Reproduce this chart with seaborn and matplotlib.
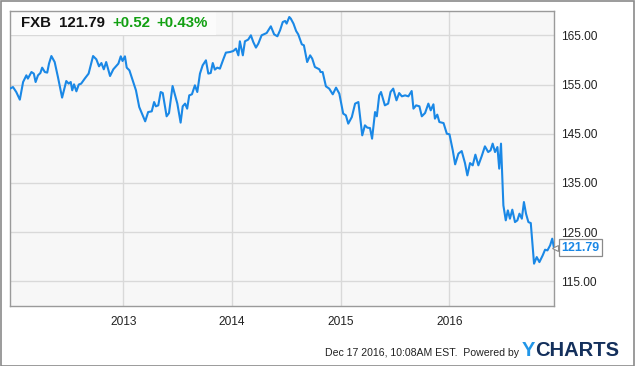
import matplotlib
matplotlib.use("Agg")
import matplotlib.pyplot as plt
import matplotlib.dates as mdates
from matplotlib.patches import Rectangle
import numpy as np
import pandas as pd
import seaborn as sns

# ---------------- data ----------------
ticker = "FXB"
last_price = 121.79
change_abs = "+0.52"
change_pct = "+0.43%"
start_date = "2011-12-17"
end_date = "2016-12-17"
days_since_start = [0, 10, 21, 33, 44, 55, 60, 72, 80, 86,
                    94, 102, 108, 117, 125, 131, 139, 150, 161, 175,
                    189, 197, 204, 209, 215, 223, 231, 239, 251, 264,
                    279, 290, 299, 307, 315, 323, 336, 347, 364, 372,
                    378, 386, 392, 401, 409, 423, 434, 454, 464, 476,
                    484, 490, 498, 506, 513, 526, 534, 546, 562, 573,
                    580, 588, 595, 602, 611, 621, 629, 638, 647, 658,
                    666, 674, 681, 688, 696, 705, 716, 725, 739, 750,
                    759, 767, 772, 782, 789, 800, 809, 817, 826, 834,
                    845, 862, 876, 887, 898, 907, 916, 924, 929, 938,
                    943, 952, 961, 968, 980, 987, 998, 1008, 1015, 1024,
                    1039, 1043, 1050, 1061, 1072, 1084, 1095, 1106, 1119, 1128,
                    1136, 1148, 1159, 1170, 1183, 1192, 1200, 1209, 1216, 1226,
                    1232, 1240, 1246, 1259, 1270, 1278, 1287, 1298, 1307, 1316,
                    1327, 1338, 1349, 1355, 1364, 1375, 1383, 1394, 1405, 1413,
                    1422, 1427, 1435, 1442, 1456, 1467, 1476, 1487, 1495, 1506,
                    1517, 1528, 1536, 1545, 1554, 1563, 1573, 1584, 1595, 1606,
                    1614, 1621, 1629, 1637, 1643, 1649, 1657, 1665, 1672, 1679,
                    1687, 1696, 1704, 1711, 1719, 1726, 1733, 1741, 1749, 1760,
                    1769, 1778, 1789, 1797, 1805, 1814, 1821, 1827]
prices = [154.17, 154.49, 153.48, 151.93, 155.51, 156.87, 156.2, 157.54, 157.22, 155.51,
          156.87, 157.34, 158.43, 157.54, 157.42, 159.25, 160.79, 159.57, 156.52, 152.34,
          155.71, 155.18, 155.51, 153.82, 155.04, 153.62, 155.0, 155.18, 156.2, 157.22,
          160.79, 160.12, 158.7, 159.37, 158.09, 159.57, 156.73, 158.09, 159.25, 160.73,
          159.78, 160.73, 158.43, 157.89, 156.4, 153.82, 150.43, 147.52, 149.41, 149.55,
          151.44, 150.57, 150.77, 153.48, 153.27, 148.54, 149.21, 154.7, 151.12, 147.26,
          150.57, 151.12, 150.1, 152.8, 153.01, 154.84, 153.48, 157.22, 158.9, 159.92,
          157.22, 157.34, 159.37, 158.03, 158.43, 158.23, 160.06, 161.48, 161.61, 161.81,
          162.3, 160.93, 163.78, 160.93, 163.78, 164.13, 165.0, 163.64, 162.5, 163.31,
          165.0, 165.47, 166.83, 165.2, 164.8, 166.02, 167.7, 167.91, 167.38, 168.72,
          168.39, 167.38, 165.87, 165.2, 163.17, 162.97, 159.57, 160.93, 160.26, 158.56,
          158.09, 157.54, 157.54, 154.63, 154.17, 153.01, 154.37, 153.15, 149.09, 148.74,
          147.05, 148.39, 151.12, 151.44, 144.67, 146.71, 146.24, 146.16, 144.0, 149.41,
          148.54, 152.8, 153.48, 150.77, 151.12, 153.48, 154.17, 151.79, 153.27, 152.6,
          152.8, 152.6, 153.68, 150.1, 150.77, 150.57, 148.54, 149.21, 151.12, 149.76,
          150.98, 148.07, 148.88, 147.38, 147.17, 145.02, 144.88, 141.63, 138.78, 140.96,
          141.48, 139.04, 136.54, 139.04, 138.58, 140.75, 138.58, 140.41, 142.44, 141.28,
          141.63, 142.99, 141.28, 142.3, 137.91, 142.99, 130.45, 127.4, 129.43, 127.74,
          129.57, 127.05, 127.4, 128.76, 127.74, 131.12, 128.76, 127.05, 126.85, 118.6,
          119.94, 118.92, 120.28, 121.44, 121.3, 122.32, 123.68, 121.79]
y_ticks = [115, 125, 135, 145, 155, 165]
x_tick_years = ["2013", "2014", "2015", "2016"]
footer_text = "Dec 17 2016, 10:08AM EST.  Powered by"

df = pd.DataFrame({
    "date": pd.Timestamp(start_date) + pd.to_timedelta(days_since_start, unit="D"),
    "price": prices,
})

# ---------------- style ----------------
sns.set_style("white")
plt.rcParams["font.family"] = ["Liberation Sans", "DejaVu Sans"]

LINE = "#1a88e6"
GREEN = "#12a012"
GRID = "#d9d9d9"
FRAME = "#9a9a9a"

fig = plt.figure(figsize=(6.35, 3.66), dpi=100)
fig.patch.set_facecolor("white")
W, H = 635, 366
ax = fig.add_axes([10 / W, (H - 306) / H, 544 / W, (306 - 10.7) / H])
ax.set_facecolor("#f7f7f7")

sns.lineplot(data=df, x="date", y="price", ax=ax, color=LINE, linewidth=1.5, zorder=3)

ax.set_xlim(pd.Timestamp(start_date), pd.Timestamp(end_date))
ax.set_ylim(110, 170)
ax.set_xlabel("")
ax.set_ylabel("")

ax.set_yticks(y_ticks)
ax.set_yticklabels([f"{v:.2f}" for v in y_ticks])
ax.yaxis.tick_right()
ax.set_xticks([pd.Timestamp(f"{y}-01-01") for y in x_tick_years])
ax.set_xticklabels(x_tick_years)
ax.tick_params(axis="y", length=0, pad=5, labelsize=8.6, labelcolor="#222222")
ax.tick_params(axis="x", length=0, pad=7, labelsize=8.6, labelcolor="#222222")
ax.grid(True, color=GRID, linewidth=1.0, zorder=0)
ax.set_axisbelow(True)
for s in ax.spines.values():
    s.set_color(FRAME)
    s.set_linewidth(1.0)

# header box
ax.add_patch(Rectangle((0, 1 - (35 - 10.7) / 295.3), (216 - 10) / 544, (35 - 10.7) / 295.3,
                       transform=ax.transAxes, facecolor="#fbfbfb", edgecolor="none", zorder=2))
hy = 1 - (23 - 10.7) / 295.3
hdr_size = 10.8
ax.text((21 - 10) / 544, hy, ticker, transform=ax.transAxes, fontsize=hdr_size, fontweight="bold",
        color="#111111", va="center", ha="left", zorder=4)
ax.text((59.5 - 10) / 544, hy, f"{last_price:.2f}", transform=ax.transAxes, fontsize=hdr_size,
        fontweight="bold", color="#111111", va="center", ha="left", zorder=4)
ax.text((112 - 10) / 544, hy, change_abs, transform=ax.transAxes, fontsize=hdr_size,
        fontweight="bold", color=GREEN, va="center", ha="left", zorder=4)
ax.text((156.5 - 10) / 544, hy, change_pct, transform=ax.transAxes, fontsize=hdr_size,
        fontweight="bold", color=GREEN, va="center", ha="left", zorder=4)

# last value label
trans = ax.get_yaxis_transform()
ax.text(1 + (561 - 554) / 544, last_price, f"{last_price:.2f}", transform=trans,
        fontsize=9, fontweight="bold", color=LINE, va="center", ha="left", zorder=5,
        clip_on=False,
        bbox=dict(boxstyle="square,pad=0.2", facecolor="white", edgecolor="#8a8a8a", linewidth=0.9))
ax.plot([1 + 1 / 544], [last_price], marker="<", markersize=5, markerfacecolor="white",
        markeredgecolor="#8a8a8a", markeredgewidth=0.8, transform=trans, clip_on=False, zorder=6)

# footer
fig.text(519 / W, 1 - 353 / H, footer_text, fontsize=7.6, color="#222222", ha="right", va="center")
fig.text(522 / W, 1 - 351 / H, "Y", fontsize=14.5, fontweight="bold", color="#2196e8",
         ha="left", va="center")
fig.text(535 / W, 1 - 351 / H, "CHARTS", fontsize=14.5, fontweight="bold", color="#14305c",
         ha="left", va="center")

# outer border
fig.add_artist(Rectangle((0.5 / W, 0.5 / H), 1 - 1.5 / W, 1 - 1.5 / H, transform=fig.transFigure,
                         facecolor="none", edgecolor="#8a8a8a", linewidth=1.2))

fig.savefig("out.png", dpi=100)
